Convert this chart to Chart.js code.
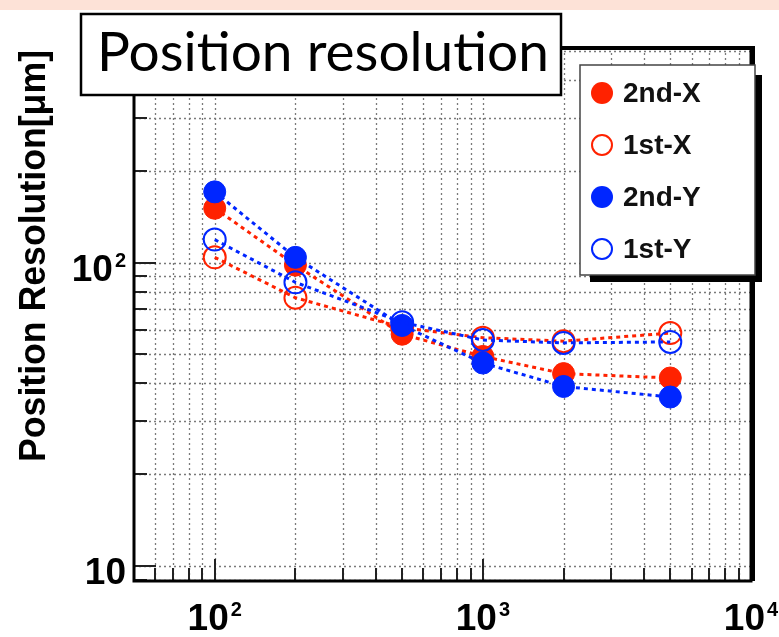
<!DOCTYPE html>
<html>
<head>
<meta charset="utf-8">
<script src="https://cdn.jsdelivr.net/npm/chart.js@4.4.1/dist/chart.umd.min.js"></script>
<style>
    html, body { margin: 0; padding: 0; background: #fff; }
    #wrap { position: relative; width: 779px; height: 637px; overflow: hidden; }
    #band { position: absolute; left: 0; top: 0; width: 779px; height: 10px; background: #fde2d7; }
    #chart { position: absolute; left: 0; top: 0; }
</style>
</head>
<body>
<div id="wrap">
    <div id="band"></div>
    <canvas id="chart" width="779" height="637"></canvas>
</div>
<script>
// data
const energies = [100, 200, 500, 1000, 2000, 5000];
const res2ndX = [151, 98, 58, 49, 43, 41.6];
const res1stX = [104, 76.5, 61, 56.5, 55, 58.5];
const res2ndY = [171, 104, 62, 46.6, 39, 36];
const res1stY = [119, 86, 63.5, 55.5, 54.3, 54.7];
const seriesNames = ['2nd-X', '1st-X', '2nd-Y', '1st-Y'];
const xTickLabels = [100, 1000, 10000];
const yTickLabels = [10, 100];
const titleText = 'Position resolution';
const yTitle = 'Position Resolution[\u03bcm]';

const RED = '#ff2200';
const BLUE = '#0026ff';

function makeSet(name, values, color, filled, order) {
    return {
        label: name,
        data: energies.map((x, i) => ({ x: x, y: values[i] })),
        borderColor: color,
        backgroundColor: filled ? color : 'rgba(255,255,255,0)',
        pointBackgroundColor: filled ? color : 'rgba(255,255,255,0)',
        pointBorderColor: color,
        pointBorderWidth: filled ? 1 : 2,
        pointRadius: 11,
        borderWidth: 3,
        borderDash: [4, 4],
        fill: false,
        tension: 0,
        order: order,
        filled: filled
    };
}

function drawPow(ctx, v, x, y, align) {
    const e = Math.round(Math.log10(v));
    const base = '10';
    const sup = e === 1 ? '' : String(e);
    ctx.font = 'bold 37px "Liberation Sans", Arial, sans-serif';
    const wb = ctx.measureText(base).width;
    ctx.font = 'bold 20px "Liberation Sans", Arial, sans-serif';
    const ws = sup ? ctx.measureText(sup).width + 2 : 0;
    const total = wb + ws;
    let left = align === 'right' ? x - total : x - total / 2;
    ctx.fillStyle = '#000';
    ctx.textAlign = 'left';
    ctx.textBaseline = 'alphabetic';
    ctx.font = 'bold 37px "Liberation Sans", Arial, sans-serif';
    ctx.fillText(base, left, y + 13);
    if (sup) {
        ctx.font = 'bold 20px "Liberation Sans", Arial, sans-serif';
        ctx.fillText(sup, left + wb + 2, y - 1);
    }
}

const rootPlugin = {
    id: 'rootStyle',
    beforeDatasetsDraw(chart) {
        const ctx = chart.ctx;
        const a = chart.chartArea;
        const xs = chart.scales.x, ys = chart.scales.y;
        ctx.save();
        ctx.strokeStyle = '#7a7a7a';
        ctx.lineWidth = 1.3;
        ctx.setLineDash([2, 3]);
        for (let e = 0; e <= 4; e++) {
            for (let k = 1; k <= 9; k++) {
                const v = k * Math.pow(10, e);
                if (v > xs.min && v < xs.max) {
                    const px = Math.round(xs.getPixelForValue(v)) + 0.5;
                    ctx.beginPath(); ctx.moveTo(px, a.top); ctx.lineTo(px, a.bottom); ctx.stroke();
                }
                if (v > ys.min && v < ys.max) {
                    const py = Math.round(ys.getPixelForValue(v)) + 0.5;
                    ctx.beginPath(); ctx.moveTo(a.left, py); ctx.lineTo(a.right, py); ctx.stroke();
                }
            }
        }
        ctx.restore();
    },
    afterDraw(chart) {
        const ctx = chart.ctx;
        const a = chart.chartArea;
        const xs = chart.scales.x, ys = chart.scales.y;
        ctx.save();

        // ticks inside the frame
        ctx.strokeStyle = '#222';
        ctx.lineWidth = 2;
        ctx.setLineDash([]);
        for (let e = 0; e <= 4; e++) {
            for (let k = 1; k <= 9; k++) {
                const v = k * Math.pow(10, e);
                const len = k === 1 ? 22 : 13;
                if (v > xs.min && v < xs.max) {
                    const px = Math.round(xs.getPixelForValue(v));
                    ctx.beginPath(); ctx.moveTo(px, a.bottom); ctx.lineTo(px, a.bottom - len); ctx.stroke();
                }
                if (v > ys.min && v < ys.max) {
                    const py = Math.round(ys.getPixelForValue(v));
                    ctx.beginPath(); ctx.moveTo(a.left, py); ctx.lineTo(a.left + len, py); ctx.stroke();
                }
            }
        }

        // frame
        ctx.strokeStyle = '#000';
        ctx.lineWidth = 3;
        ctx.strokeRect(a.left, a.top, a.right - a.left, a.bottom - a.top);
        ctx.lineWidth = 4;
        ctx.beginPath(); ctx.moveTo(a.left, a.top); ctx.lineTo(a.right + 2, a.top); ctx.lineTo(a.right + 2, a.bottom); ctx.stroke();

        // tick labels
        xTickLabels.forEach(v => drawPow(ctx, v, xs.getPixelForValue(v), 617, 'center'));
        yTickLabels.forEach(v => drawPow(ctx, v, 126, ys.getPixelForValue(v) + 5, 'right'));

        // y axis title
        ctx.save();
        ctx.translate(35, 256);
        ctx.rotate(-Math.PI / 2);
        ctx.font = 'bold 36px "Liberation Sans", Arial, sans-serif';
        const tw = ctx.measureText(yTitle).width;
        ctx.scale(412 / tw, 1);
        ctx.textAlign = 'center';
        ctx.textBaseline = 'middle';
        ctx.fillStyle = '#000';
        ctx.fillText(yTitle, 0, 0);
        ctx.restore();

        // legend
        ctx.fillStyle = '#000';
        ctx.fillRect(590, 75, 172, 207);
        ctx.fillStyle = '#fff';
        ctx.fillRect(580, 65, 175, 210);
        ctx.strokeStyle = '#444';
        ctx.lineWidth = 1.5;
        ctx.strokeRect(580, 65, 175, 210);
        chart.data.datasets.forEach((ds, i) => {
            const cy = 93 + i * 52;
            ctx.beginPath();
            ctx.arc(602, cy, ds.filled ? 11 : 10, 0, Math.PI * 2);
            if (ds.filled) {
                ctx.fillStyle = ds.borderColor;
                ctx.fill();
            } else {
                ctx.strokeStyle = ds.borderColor;
                ctx.lineWidth = 2;
                ctx.stroke();
            }
            ctx.fillStyle = '#111';
            ctx.font = 'bold 28px "Liberation Sans", Arial, sans-serif';
            ctx.textAlign = 'left';
            ctx.textBaseline = 'middle';
            ctx.fillText(ds.label, 623, cy + 1);
        });

        // title box
        ctx.fillStyle = '#fff';
        ctx.fillRect(80, 13, 482, 83);
        ctx.strokeStyle = '#000';
        ctx.lineWidth = 2.5;
        ctx.strokeRect(81, 14, 480, 81);
        ctx.save();
        ctx.font = '55px Lato, "Open Sans", sans-serif';
        const w = ctx.measureText(titleText).width;
        ctx.translate(97, 71);
        ctx.scale(452 / w, 1);
        ctx.fillStyle = '#000';
        ctx.textAlign = 'left';
        ctx.textBaseline = 'alphabetic';
        ctx.fillText(titleText, 0, 0);
        ctx.restore();

        ctx.restore();
    }
};

new Chart(document.getElementById('chart'), {
    type: 'line',
    data: {
        datasets: [
            makeSet(seriesNames[0], res2ndX, RED, true, 4),
            makeSet(seriesNames[1], res1stX, RED, false, 3),
            makeSet(seriesNames[2], res2ndY, BLUE, true, 2),
            makeSet(seriesNames[3], res1stY, BLUE, false, 1)
        ]
    },
    options: {
        responsive: false,
        animation: false,
        devicePixelRatio: 1,
        layout: { padding: { left: 134, top: 48, right: 28, bottom: 56 } },
        plugins: { legend: { display: false }, tooltip: { enabled: false } },
        scales: {
            x: { type: 'logarithmic', min: 50, max: 10000, display: false },
            y: { type: 'logarithmic', min: 8.9, max: 510, display: false }
        }
    },
    plugins: [rootPlugin]
});
</script>
</body>
</html>
